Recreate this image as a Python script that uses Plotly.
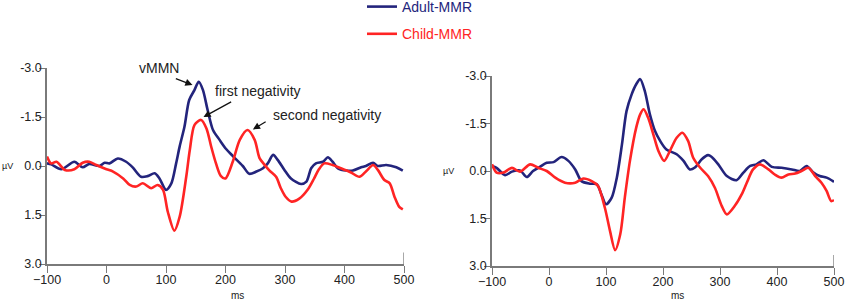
import plotly.graph_objects as go

# ---------------- data ----------------
o1_adult_ms = [-100, -93, -76, -54, -40, -29, -12, -3, 5, 19, 33, 44, 58, 69, 81, 89, 100, 109, 117,
               123, 131, 139, 148, 155, 162, 170, 179, 190, 201, 212, 229, 240, 252, 263, 271, 280,
               288, 299, 310, 327, 336, 344, 352, 364, 372, 380, 389, 403, 414, 428, 436, 448, 456,
               470, 487, 498]
o1_adult_uv = [-0.08, -0.05, 0.10, -0.13, 0.04, -0.06, 0.0, -0.10, -0.08, -0.23, -0.13, 0.04, 0.33, 0.31,
               0.22, 0.38, 0.73, 0.53, -0.08,
               -0.6, -1.2, -2.02, -2.33, -2.58, -2.33, -1.71, -1.10, -0.80, -0.52, -0.31, 0.0, 0.24,
               0.17, 0.07, -0.08, -0.34, -0.18, 0.12, 0.38, 0.55, 0.48, 0.07, -0.08, -0.13, -0.27,
               -0.13, 0.07, 0.14, 0.14, 0.04, 0.0, -0.10, 0.0, -0.03, 0.04, 0.14]

o1_child_ms = [-100, -93, -84, -70, -54, -40, -29, -17, 0, 11, 28, 39, 50, 61, 75, 86, 95, 103, 114,
               123, 134, 140, 148, 159, 168, 176, 184, 192, 200, 212, 224, 237, 249, 257, 265, 274,
               285, 293, 301, 311, 324, 338, 349, 357, 366, 380, 394, 411, 425, 436, 448, 456, 467,
               476, 484, 492, 498]
o1_child_uv = [-0.29, -0.08, -0.13, 0.12, 0.10, -0.10, -0.13, -0.03, 0.10, 0.17, 0.38, 0.58, 0.63,
               0.53, 0.68, 0.58, 0.73, 1.40, 1.98,
               1.55, 0.33, -0.49, -1.26, -1.41, -1.15, -0.59, -0.08, 0.30, 0.38, -0.12, -0.80, -1.10,
               -0.80, -0.25, -0.05, 0.14, 0.33, 0.68, 0.94, 1.09, 1.00, 0.73, 0.38, 0.10, -0.08,
               -0.03, 0.07, 0.20, 0.33, 0.17, -0.03, 0.12, 0.43, 0.53, 0.94, 1.25, 1.33]

o2_adult_ms = [-100, -92, -77, -65, -51, -39, -28, -16, -4, 8, 22, 34, 46, 57, 72, 84, 92, 100, 110,
               119, 128, 136, 145, 153, 160, 168, 177, 186, 195, 206, 224, 236, 247, 256, 268, 279,
               285, 297, 312, 329, 341, 353, 364, 376, 391, 408, 426, 440, 452, 464, 475, 487, 500]
o2_adult_uv = [-0.16, -0.10, 0.13, 0.02, -0.02, 0.19, 0.0, -0.13, -0.26, -0.28, -0.44, -0.32, -0.05,
               0.32, 0.40, 0.42, 0.74, 1.05, 0.84,
               0.21, -0.84, -1.89, -2.42, -2.74, -2.90, -2.53, -1.79, -1.26, -0.95, -0.68, -0.53,
               -0.32, -0.05, -0.11, -0.37, -0.50, -0.45, -0.21, 0.16, 0.29, 0.05, -0.16, -0.21,
               -0.34, -0.13, -0.10, -0.05, 0.0, -0.16, 0.05, 0.16, 0.21, 0.34]

o2_child_ms = [-100, -92, -80, -65, -51, -33, -19, -4, 11, 28, 46, 60, 75, 86, 98, 107, 116, 125, 133,
               142, 153, 160, 166, 174, 183, 192, 202, 212, 224, 234, 244, 253, 265, 279, 291, 303,
               312, 326, 338, 347, 358, 370, 385, 396, 408, 420, 432, 443, 455, 467, 478, 487, 495,
               500]
o2_child_uv = [-0.21, 0.05, 0.05, -0.10, 0.02, -0.21, -0.10, 0.0, 0.21, 0.37, 0.37, 0.24, 0.32, 0.47,
               1.16, 1.89, 2.50, 2.00, 0.84,
               -0.32, -1.37, -1.79, -1.95, -1.68, -1.16, -0.63, -0.32, -0.63, -1.05, -1.21, -0.95,
               -0.42, -0.11, 0.16, 0.53, 1.10, 1.37, 1.10, 0.74, 0.37, -0.05, -0.21, -0.05, 0.11,
               0.21, 0.11, 0.08, 0.0, -0.10, 0.16, 0.37, 0.63, 0.95, 0.92]

x_ticks = [-100, 0, 100, 200, 300, 400, 500]
y_ticks = [-3.0, -1.5, 0.0, 1.5, 3.0]
y_tick_labels = ["-3.0", "-1.5", "0.0", "1.5", "3.0"]

series_names = ["Adult-MMR", "Child-MMR"]

# ---------------- styles ----------------
BLUE = "#23247c"
RED = "#ff2424"
AXIS = "#7a7a7a"
TEXT = "#222222"
FONT = "Liberation Sans, Arial, sans-serif"

W, H = 850, 301


def fx(px):  # screen x -> paper fraction
    return px / W


def fy(py):  # screen y -> paper fraction (from bottom)
    return 1 - py / H


fig = go.Figure()

line_kw = dict(width=2.6, shape="spline", smoothing=0.8)
fig.add_trace(go.Scatter(x=o1_adult_ms, y=o1_adult_uv, mode="lines", line=dict(color=BLUE, **line_kw),
                         name=f"<span style='color:{BLUE}'>{series_names[0]}</span>", legendgroup="a",
                         xaxis="x", yaxis="y"))
fig.add_trace(go.Scatter(x=o1_child_ms, y=o1_child_uv, mode="lines", line=dict(color=RED, **line_kw),
                         name=f"<span style='color:{RED}'>{series_names[1]}</span>", legendgroup="c",
                         xaxis="x", yaxis="y"))
fig.add_trace(go.Scatter(x=o2_adult_ms, y=o2_adult_uv, mode="lines", line=dict(color=BLUE, **line_kw),
                         showlegend=False, legendgroup="a", xaxis="x2", yaxis="y2"))
fig.add_trace(go.Scatter(x=o2_child_ms, y=o2_child_uv, mode="lines", line=dict(color=RED, **line_kw),
                         showlegend=False, legendgroup="c", xaxis="x2", yaxis="y2"))


def xaxis_style(domain, anchor):
    return dict(domain=domain, anchor=anchor, range=[-100, 500], tickvals=x_ticks,
                showline=True, linecolor=AXIS, linewidth=1.5, ticks="outside", ticklen=7,
                tickcolor=AXIS, tickwidth=1.3, showgrid=False, zeroline=False, automargin=False,
                tickfont=dict(size=12.5, color=TEXT), ticklabelstandoff=-4, title=None)


def yaxis_style(domain, anchor):
    return dict(domain=domain, anchor=anchor, range=[3.0, -3.0], tickvals=y_ticks,
                ticktext=y_tick_labels, showline=True, linecolor=AXIS, linewidth=1.5,
                ticks="outside", ticklen=6, tickcolor=AXIS, tickwidth=1.3, showgrid=False,
                zeroline=False, automargin=False, tickfont=dict(size=12.5, color=TEXT),
                ticklabelstandoff=-5, title=None)


fig.update_layout(
    width=W, height=H, margin=dict(l=0, r=0, t=0, b=0, autoexpand=False),
    paper_bgcolor="white", plot_bgcolor="white",
    font=dict(family=FONT, color=TEXT),
    xaxis=xaxis_style([fx(47), fx(404)], "y"),
    yaxis=yaxis_style([fy(264), fy(68)], "x"),
    xaxis2=xaxis_style([fx(492), fx(834)], "y2"),
    yaxis2=yaxis_style([fy(266), fy(76)], "x2"),
    legend=dict(x=fx(362), y=fy(-9), xanchor="left", yanchor="top", font=dict(size=14, family=FONT),
                bgcolor="rgba(0,0,0,0)", tracegroupgap=6, itemwidth=30),
    showlegend=True,
)

# end caps at x = 500 on both bottom axes
for xa, ya in (("x", "y"), ("x2", "y2")):
    fig.add_shape(type="line", xref=xa, yref=ya, x0=x_ticks[-1], x1=x_ticks[-1], y0=3.0, y1=2.65,
                  line=dict(color=AXIS, width=1.3))

ann = []
center = dict(xanchor="center", yanchor="middle", showarrow=False)
# axis titles
ann.append(dict(text="ms", xref="paper", yref="paper", x=fx(237), y=fy(295), font=dict(size=10), **center))
ann.append(dict(text="ms", xref="paper", yref="paper", x=fx(677), y=fy(295), font=dict(size=10), **center))
ann.append(dict(text="µV", xref="paper", yref="y", x=fx(8), y=0.0, font=dict(size=9), **center))
ann.append(dict(text="µV", xref="paper", yref="y2", x=fx(448), y=0.0, font=dict(size=9), **center))

# labels
ann.append(dict(text="Electrode: O1", xref="x", yref="y", x=245, y=-3.12, font=dict(size=14), **center))
ann.append(dict(text="Electrode: O2", xref="x2", yref="y2", x=249, y=-3.06, font=dict(size=14), **center))
ann.append(dict(text="vMMN", xref="x", yref="y", x=89, y=-3.0, font=dict(size=14), **center))
ann.append(dict(text="first negativity", xref="x", yref="y", x=255, y=-2.3, font=dict(size=14), **center))
ann.append(dict(text="second negativity", xref="x", yref="y", x=371, y=-1.56, font=dict(size=14), **center))

# arrows (tail -> head)
arrows = [((114, -2.69), (144.5, -2.48)),
          ((212, -1.99), (163, -1.50)),
          ((270, -1.38), (246, -1.12))]
for (tx, ty), (hx, hy) in arrows:
    ann.append(dict(text="", xref="x", yref="y", axref="x", ayref="y", x=hx, y=hy, ax=tx, ay=ty,
                    showarrow=True, arrowhead=2, arrowsize=1.1, arrowwidth=1.3, arrowcolor="#111111"))

fig.update_layout(annotations=ann)

# remove the browser's default 8px body margin so the figure sits at (0, 0)
fig.write_html("out.html", config={"displayModeBar": False},
               post_script="document.body.style.margin='0';document.body.style.overflow='hidden';")
